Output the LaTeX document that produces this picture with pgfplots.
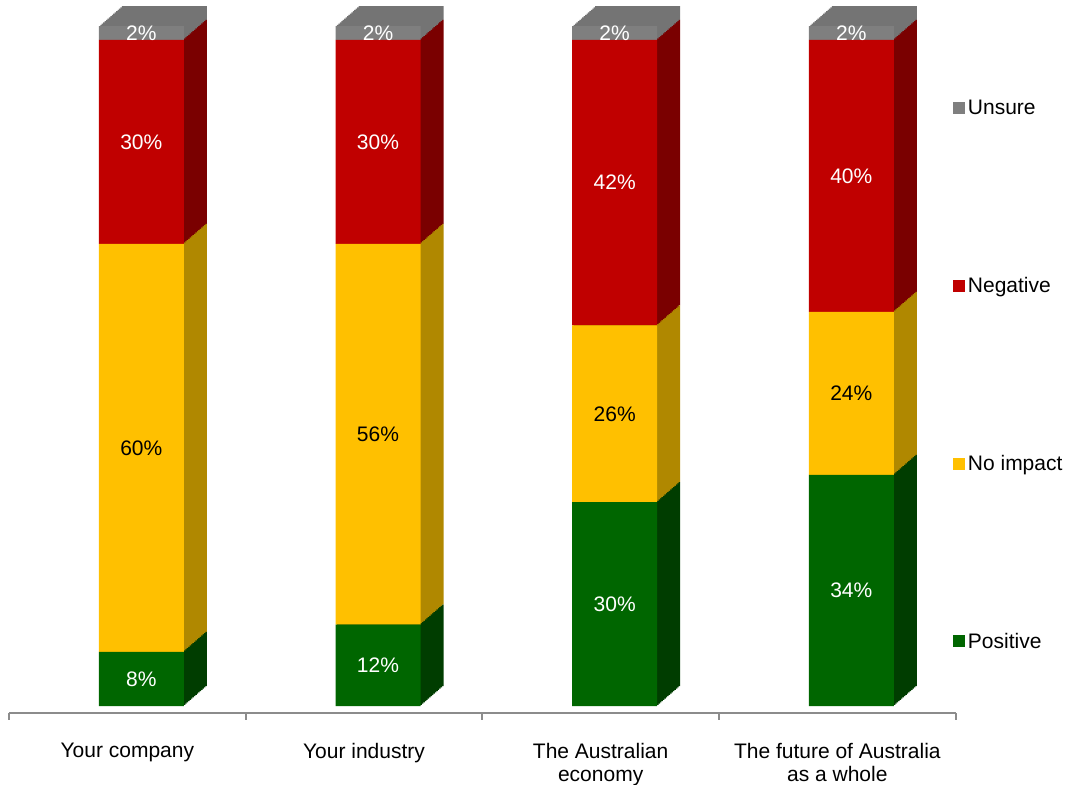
\documentclass[border=0pt]{standalone}
\usepackage{pgfplots}
\pgfplotsset{compat=1.18}
\usepackage{pgfplotstable}
\usepackage{fontspec}
\setmainfont{Liberation Sans}
\definecolor{gF}{HTML}{006600}\definecolor{gS}{HTML}{003D00}
\definecolor{yF}{HTML}{FFC000}\definecolor{yS}{HTML}{B08800}
\definecolor{rF}{HTML}{C00000}\definecolor{rS}{HTML}{7A0000}
\definecolor{uF}{HTML}{7F7F7F}\definecolor{uS}{HTML}{747474}
\definecolor{axg}{HTML}{8C8C8C}
\pgfplotstableread{
x pos noimp neg unsure
0 8 60 30 2
1 12 56 30 2
2 30 26 42 2
3 34 24 40 2
}\data
\newcommand\lbl{\fontsize{15.75}{17.25}\selectfont}
\pgfplotsset{base/.style={
  scale only axis, width=710pt, height=510pt,
  xmin=-0.5, xmax=3.5, ymin=-1, ymax=99,
  ybar stacked, bar width=63.75pt, bar shift=10.5pt, clip=false,
}}
\begin{document}
\begin{tikzpicture}
\foreach \k in {16,15,...,1}{
\begin{axis}[base, hide axis, xshift=\k*1.078pt, yshift=\k*0.9375pt]
\addplot[fill=gS, draw=none, bar shift=10.5pt] table[x=x,y=pos]{\data};
\addplot[fill=yS, draw=none, bar shift=10.5pt] table[x=x,y=noimp]{\data};
\addplot[fill=rS, draw=none, bar shift=10.5pt] table[x=x,y=neg]{\data};
\addplot[fill=uS, draw=none, bar shift=10.5pt] table[x=x,y=unsure]{\data};
\end{axis}
}
\begin{axis}[base, name=main,
  axis x line*=bottom, axis y line=none,
  axis line style={axg, line width=2pt, -},
  xtick={-0.5,0.5,1.5,2.5,3.5}, xticklabels={},
  tick style={axg, line width=1.5pt}, major tick length=5pt, tick align=outside,
  extra x ticks={0,1,2,3},
  extra x tick labels={Your company, Your industry, {The Australian\\economy}, {The future of Australia\\as a whole}},
  extra x tick style={major tick length=0pt, tick label style={align=center, font=\lbl, yshift=-19pt}},
  /pgf/number format/assume math mode=true,
  visualization depends on=rawy \as \rawy,
  nodes near coords={\pgfmathprintnumber{\rawy}\%},
  every node near coord/.append style={font=\lbl, anchor=center},
  reverse legend,
  legend style={draw=none, fill=none, at={(1,0.5)}, anchor=west, xshift=-2pt, yshift=-1.5pt, font=\lbl, row sep=116.5pt, legend cell align=left, inner sep=0pt},
  legend image code/.code={\fill[#1] (0pt,-4.5pt) rectangle (9pt,4.5pt);},
]
\addplot[fill=gF, draw=none, bar shift=10.5pt, every node near coord/.append style={text=white}] table[x=x,y=pos]{\data};
\addlegendentry{Positive}
\addplot[fill=yF, draw=none, bar shift=10.5pt, every node near coord/.append style={text=black}] table[x=x,y=noimp]{\data};
\addlegendentry{No impact}
\addplot[fill=rF, draw=none, bar shift=10.5pt, every node near coord/.append style={text=white}] table[x=x,y=neg]{\data};
\addlegendentry{Negative}
\addplot[fill=uF, draw=none, bar shift=10.5pt, every node near coord/.append style={text=white}] table[x=x,y=unsure]{\data};
\addlegendentry{Unsure}
\end{axis}
\pgfresetboundingbox
\path[use as bounding box] ([shift={(-6.75pt,-54pt)}]main.south west) rectangle ++(801pt,588.75pt);
\end{tikzpicture}
\end{document}
